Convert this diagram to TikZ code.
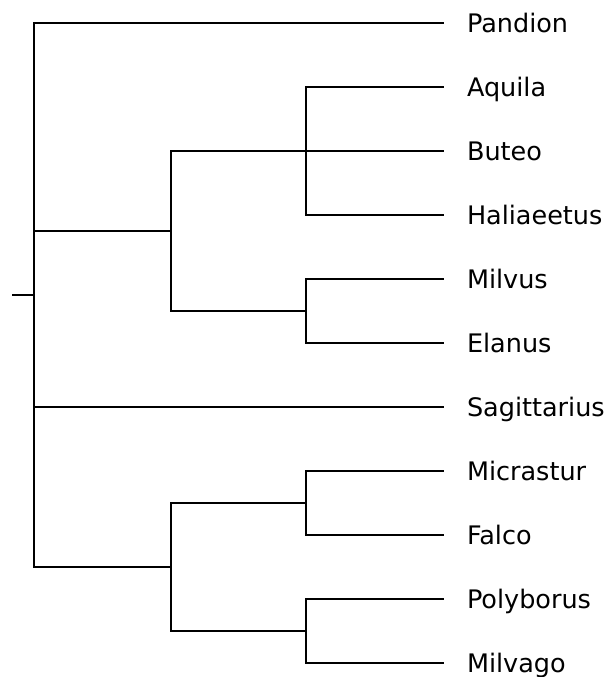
\documentclass[tikz,border=0pt]{standalone}
\usepackage{fontspec}
\setmainfont{DejaVu Sans}
\begin{document}
\begin{tikzpicture}[x=0.5bp,y=-0.5bp,line width=1bp,
  taxon/.style={font=\fontsize{12.75bp}{15bp}\selectfont,inner sep=0pt,anchor=base west,xshift=11bp,yshift=-4.65bp}]
\useasboundingbox (0,0) rectangle (606,677);
\coordinate (stub) at (12,295.3);
\coordinate (root) at (34,295.3);
\coordinate (accip) at (171,231.3);
\coordinate (abh) at (306,151.3);
\coordinate (me) at (306,311.3);
\coordinate (falc) at (171,567.3);
\coordinate (mf) at (306,503.3);
\coordinate (pm) at (306,631.3);
\coordinate (t-pandion) at (444,23.3);
\coordinate (t-aquila) at (444,87.3);
\coordinate (t-buteo) at (444,151.3);
\coordinate (t-haliaeetus) at (444,215.3);
\coordinate (t-milvus) at (444,279.3);
\coordinate (t-elanus) at (444,343.3);
\coordinate (t-sagittarius) at (444,407.3);
\coordinate (t-micrastur) at (444,471.3);
\coordinate (t-falco) at (444,535.3);
\coordinate (t-polyborus) at (444,599.3);
\coordinate (t-milvago) at (444,663.3);
\node[taxon] (pandion) at (t-pandion) {Pandion};
\node[taxon] (aquila) at (t-aquila) {Aquila};
\node[taxon] (buteo) at (t-buteo) {Buteo};
\node[taxon] (haliaeetus) at (t-haliaeetus) {Haliaeetus};
\node[taxon] (milvus) at (t-milvus) {Milvus};
\node[taxon] (elanus) at (t-elanus) {Elanus};
\node[taxon] (sagittarius) at (t-sagittarius) {Sagittarius};
\node[taxon] (micrastur) at (t-micrastur) {Micrastur};
\node[taxon] (falco) at (t-falco) {Falco};
\node[taxon] (polyborus) at (t-polyborus) {Polyborus};
\node[taxon] (milvago) at (t-milvago) {Milvago};
\draw (stub) -- (root);
\draw (root) |- (t-pandion);
\draw (root) |- (accip);
\draw (root) |- (t-sagittarius);
\draw (root) |- (falc);
\draw (accip) |- (abh);
\draw (accip) |- (me);
\draw (abh) |- (t-aquila);
\draw (abh) |- (t-buteo);
\draw (abh) |- (t-haliaeetus);
\draw (me) |- (t-milvus);
\draw (me) |- (t-elanus);
\draw (falc) |- (mf);
\draw (falc) |- (pm);
\draw (mf) |- (t-micrastur);
\draw (mf) |- (t-falco);
\draw (pm) |- (t-polyborus);
\draw (pm) |- (t-milvago);
\end{tikzpicture}
\end{document}
